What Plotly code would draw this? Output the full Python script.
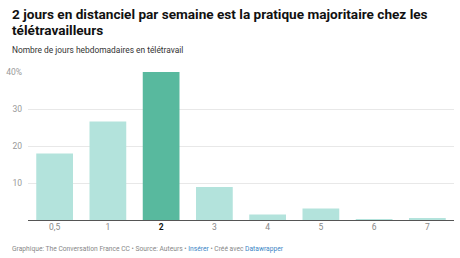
import plotly.graph_objects as go

categories = ["0,5", "1", "2", "3", "4", "5", "6", "7"]
values = [18.0, 26.6, 40.1, 8.9, 1.5, 3.1, 0.2, 0.3]
highlight = "2"
value_labels = ["", "", "40,1%", "", "", "", "", ""]
ytick_vals = [10, 20, 30, 40]
ytick_text = ["10", "20", "30", "40%"]

title_l1 = "2 jours en distanciel par semaine est la pratique majoritaire chez les"
title_l2 = "télétravailleurs"
subtitle = "Nombre de jours hebdomadaires en télétravail"

W, H = 460, 258
L, R, T, B = 24, 6, 72, 38
pw, ph = W - L - R, H - T - B

def px(x):
    return (x - L) / pw

def py(y):
    return (H - B - y) / ph

light = "#b3e3dc"
dark = "#58b99e"
colors = [dark if c == highlight else light for c in categories]
ticktext = ["<b><span style='color:#111'>%s</span></b>" % c if c == highlight else c for c in categories]

fig = go.Figure(go.Bar(
    x=categories, y=values, marker=dict(color=colors, line=dict(width=0)),
    text=value_labels, textposition="outside", cliponaxis=False,
    textfont=dict(family="Roboto", size=8.8, color="#111"),
    texttemplate="<b>%{text}</b>", hoverinfo="skip",
))

fig.update_layout(
    width=W, height=H, margin=dict(l=L, r=R, t=T, b=B),
    paper_bgcolor="white", plot_bgcolor="white",
    bargap=0.31, showlegend=False,
    font=dict(family="Roboto", color="#888"),
    xaxis=dict(
        tickmode="array", tickvals=categories, ticktext=ticktext,
        tickfont=dict(size=8.5, color="#888"), showgrid=False,
        showline=False, ticks="", fixedrange=True,
    ),
    yaxis=dict(
        range=[0, 40], tickvals=ytick_vals, ticktext=ytick_text,
        tickfont=dict(size=8.5, color="#999"), showgrid=True,
        gridcolor="#e8e8e8", gridwidth=1, zeroline=True,
        zerolinecolor="#555", zerolinewidth=1, ticks="",
        ticklabelstandoff=5, fixedrange=True,
    ),
    annotations=[
        dict(text="<b>%s</b>" % title_l1, x=px(6), y=py(13.5), xref="paper", yref="paper",
             xanchor="left", yanchor="middle", showarrow=False,
             font=dict(family="Roboto", size=13.6, color="#111")),
        dict(text="<b>%s</b>" % title_l2, x=px(6), y=py(29.5), xref="paper", yref="paper",
             xanchor="left", yanchor="middle", showarrow=False,
             font=dict(family="Roboto", size=13.6, color="#111")),
        dict(text=subtitle, x=px(6), y=py(50), xref="paper", yref="paper",
             xanchor="left", yanchor="middle", showarrow=False,
             font=dict(family="Roboto", size=8.4, color="#333")),
        dict(text="Graphique: The Conversation France CC • Source: Auteurs • "
                  "<span style='color:#3b86c6'>Insérer</span> • Créé avec "
                  "<span style='color:#3b86c6'>Datawrapper</span>",
             x=px(6), y=py(249), xref="paper", yref="paper",
             xanchor="left", yanchor="middle", showarrow=False,
             font=dict(family="Roboto", size=6.7, color="#888")),
    ],
)

fig.write_html("out.html")
